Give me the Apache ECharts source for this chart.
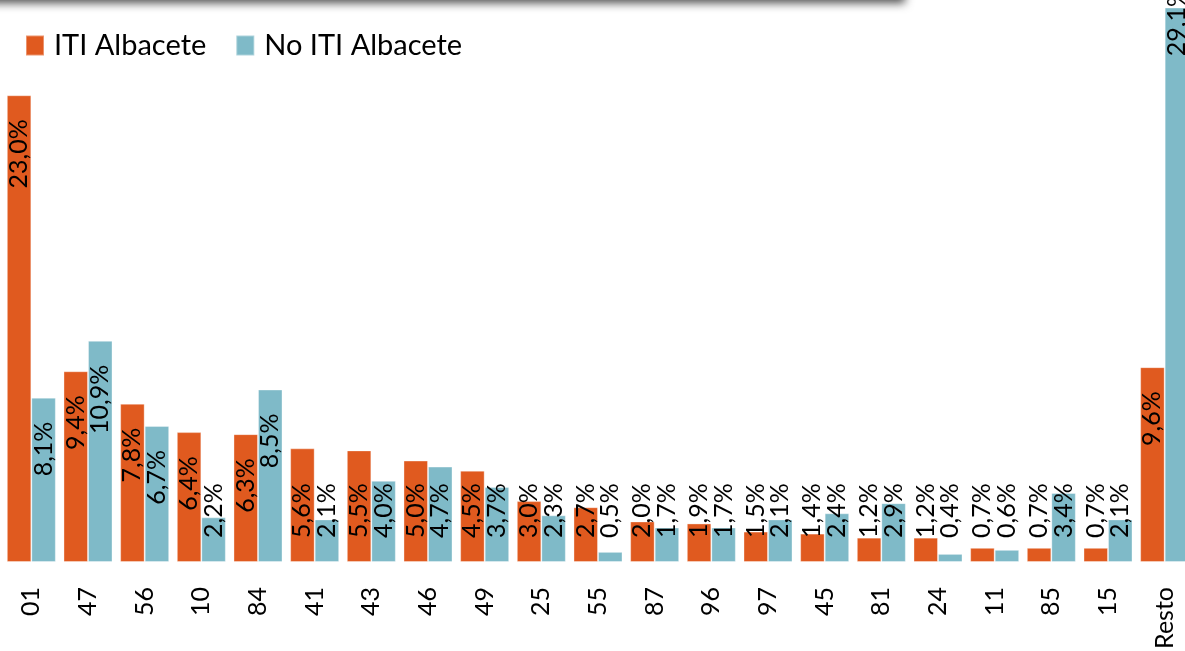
<!DOCTYPE html>
<html lang="es">
<head>
<meta charset="utf-8">
<title>ITI Albacete</title>
<script src="https://cdn.jsdelivr.net/npm/echarts@6/dist/echarts.min.js"></script>
<style>
  html, body { margin: 0; padding: 0; background: #fff; }
  #chart { width: 1185px; height: 651px; }
</style>
</head>
<body>
<div id="chart"></div>
<script>
// categorias (provincias) y porcentajes
var categorias = ['01', '47', '56', '10', '84', '41', '43', '46', '49', '25', '55',
                  '87', '96', '97', '45', '81', '24', '11', '85', '15', 'Resto'];
var itiAlbacete = [23.0, 9.4, 7.8, 6.4, 6.3, 5.6, 5.5, 5.0, 4.5, 3.0, 2.7,
                   2.0, 1.9, 1.5, 1.4, 1.2, 1.2, 0.7, 0.7, 0.7, 9.6];
var noItiAlbacete = [8.1, 10.9, 6.7, 2.2, 8.5, 2.1, 4.0, 4.7, 3.7, 2.3, 0.5,
                     1.7, 1.7, 2.1, 2.4, 2.9, 0.4, 0.6, 3.4, 2.1, 29.1];
var nombres = ['ITI Albacete', 'No ITI Albacete'];
var colores = ['#e05a1f', '#7fbac8'];

var fuente = 'Lato, "Noto Sans", sans-serif';
var yMax = 27.3;
var pxPorUnidad = (651 - 8 - 89) / yMax;   // alto del grid / rango del eje

function fmt(p) {
  return p.value.toFixed(1).replace('.', ',') + '%';
}

// etiqueta dentro del extremo; si la barra es corta, se apoya a 24px del eje
function puntos(datos) {
  return datos.map(function (v) {
    var alto = v * pxPorUnidad;
    if (alto < 24 + 24 + 68) {
      return { value: v, label: { position: 'insideBottom', align: 'left', distance: 24 } };
    }
    var d = 24;
    if (v > yMax) d = 16 - (v - yMax) * pxPorUnidad;   // barra recortada arriba
    return { value: v, label: { position: 'insideTop', align: 'right', distance: d } };
  });
}

function serie(i, datos) {
  return {
    name: nombres[i],
    type: 'bar',
    data: puntos(datos),
    barGap: '0%',
    barCategoryGap: '13.5%',
    itemStyle: { color: colores[i], borderColor: 'rgba(255,255,255,0.35)', borderWidth: 1 },
    label: {
      show: true,
      rotate: 90,
      verticalAlign: 'middle',
      formatter: fmt,
      color: '#000',
      fontFamily: fuente,
      fontSize: 25
    }
  };
}

var myChart = echarts.init(document.getElementById('chart'));
var option = {
  animation: false,
  legend: {
    left: 25,
    top: 31,
    padding: 0,
    icon: 'rect',
    itemWidth: 18,
    itemHeight: 20,
    itemGap: 29,
    data: nombres,
    textStyle: { fontFamily: fuente, fontSize: 29, color: '#000', padding: [0, 0, 0, 5] }
  },
  grid: {
    left: 3,
    top: 8,
    width: 1190,
    bottom: 89,
    containLabel: false,
    outerBoundsMode: 'none'
  },
  xAxis: {
    type: 'category',
    data: categorias,
    axisLine: { show: false },
    axisTick: { show: false },
    axisLabel: {
      rotate: 90,
      margin: 25,
      interval: 0,
      fontFamily: fuente,
      fontSize: 25,
      color: '#000'
    }
  },
  yAxis: {
    type: 'value',
    min: 0,
    max: yMax,
    show: false,
    splitLine: { show: false }
  },
  graphic: [{
    type: 'rect',
    shape: { x: -20, y: -30, width: 925, height: 30 },
    style: {
      fill: '#fff',
      shadowBlur: 10,
      shadowOffsetY: 3,
      shadowColor: 'rgba(0,0,0,0.7)'
    },
    z: 100
  }],
  series: [serie(0, itiAlbacete), serie(1, noItiAlbacete)]
};

myChart.setOption(option);
</script>
</body>
</html>
